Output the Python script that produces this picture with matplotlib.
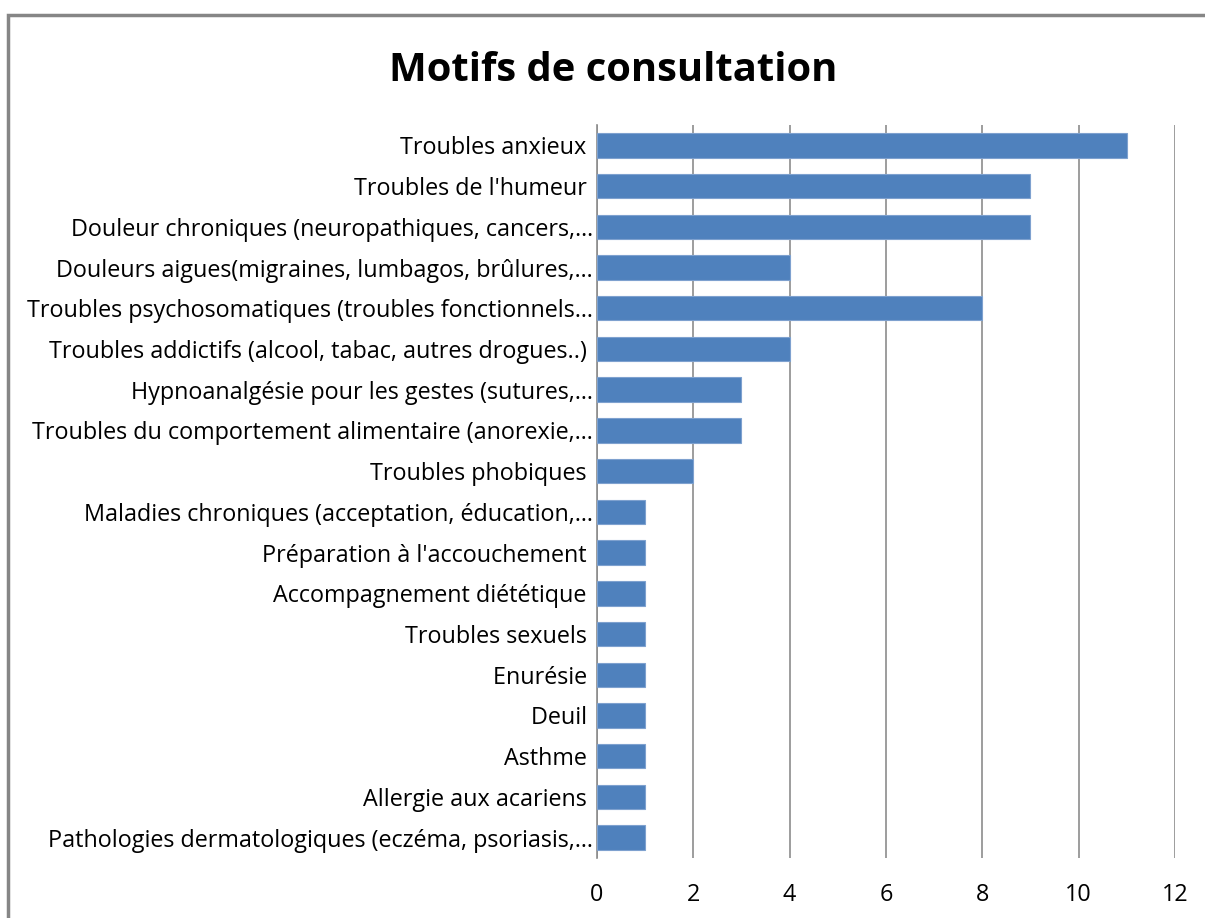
import matplotlib.pyplot as plt
from matplotlib.patches import Rectangle

motifs = [
    "Troubles anxieux ",
    "Troubles de l'humeur ",
    "Douleur chroniques (neuropathiques, cancers,…",
    "Douleurs aigues(migraines, lumbagos, brûlures,…",
    "Troubles psychosomatiques (troubles fonctionnels…",
    "Troubles addictifs (alcool, tabac, autres drogues..) ",
    "Hypnoanalgésie pour les gestes (sutures,…",
    "Troubles du comportement alimentaire (anorexie,…",
    "Troubles phobiques ",
    "Maladies chroniques (acceptation, éducation,…",
    "Préparation à l'accouchement ",
    "Accompagnement diététique ",
    "Troubles sexuels ",
    "Enurésie ",
    "Deuil ",
    "Asthme ",
    "Allergie aux acariens ",
    "Pathologies dermatologiques (eczéma, psoriasis,…",
]
nombres = [11, 9, 9, 4, 8, 4, 3, 3, 2, 1, 1, 1, 1, 1, 1, 1, 1, 1]
x_ticks = [0, 2, 4, 6, 8, 10, 12]

plt.rcParams["font.family"] = ["Open Sans", "DejaVu Sans"]

fig = plt.figure(figsize=(12.05, 9.18), dpi=100)
ax = fig.add_axes([0.4954, 0.0654, 0.4797, 0.7984])

pos = list(range(len(motifs)))
ax.barh(pos, nombres, height=0.6, color="#4F81BD", edgecolor="#7EA1CF",
        linewidth=0.8, zorder=3)
ax.set_ylim(len(motifs) - 0.5, -0.5)
ax.set_xlim(0, 12)
ax.set_yticks(pos)
ax.set_yticklabels(motifs, fontsize=16.8)
ax.set_xticks(x_ticks)
ax.set_xticklabels([str(t) for t in x_ticks], fontsize=16.8)
ax.tick_params(length=0)
ax.tick_params(axis="y", pad=3)
ax.tick_params(axis="x", pad=18)

ax.grid(axis="x", color="#8C8C8C", linewidth=1.2, zorder=0)
for s in ["top", "right", "bottom"]:
    ax.spines[s].set_visible(False)
ax.spines["left"].set_color("#8C8C8C")
ax.spines["left"].set_linewidth(1.2)

fig.text(0.509, 0.923, "Motifs de consultation", ha="center", va="center",
         fontsize=28.8, fontweight="bold")

# chart frame (runs off the right and bottom edges)
fig.patches.append(Rectangle((0.007, -0.1), 1.1, 1.084, transform=fig.transFigure,
                             fill=False, edgecolor="#868686", linewidth=2.5))

fig.savefig("out.png", dpi=100)
